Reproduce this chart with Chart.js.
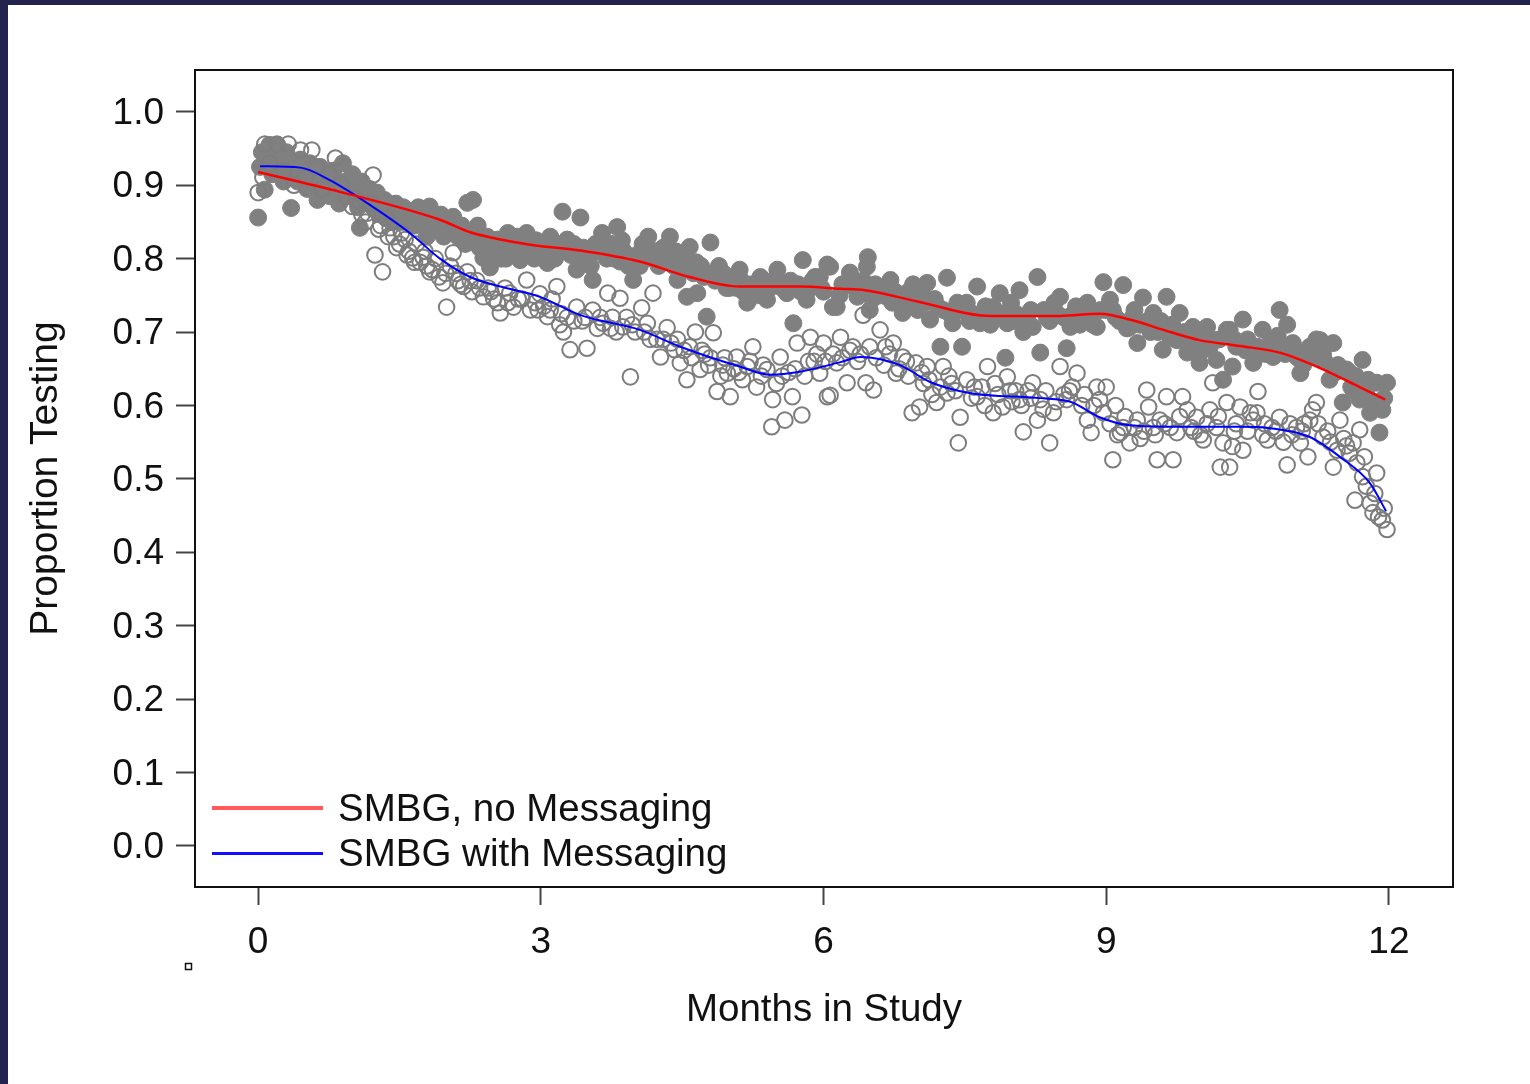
<!DOCTYPE html>
<html><head><meta charset="utf-8">
<script src="https://cdn.jsdelivr.net/npm/chart.js@4.4.1/dist/chart.umd.min.js"></script>
<style>
html,body{margin:0;padding:0;width:1530px;height:1084px;overflow:hidden;background:#24234f;}
#paper{position:absolute;left:8px;top:5px;right:0;bottom:0;background:#fff;}
#wrap{position:absolute;left:0;top:0;width:1530px;height:1084px;}
#legend{position:absolute;left:212px;top:785px;font-family:"Liberation Sans",Arial,sans-serif;font-size:38.5px;color:#111;}
.row{position:absolute;left:0;height:46px;white-space:nowrap;display:flex;align-items:center;}
.sw{width:111px;height:3px;margin-right:15px;}
</style></head><body>
<div id="paper"></div>
<div id="wrap"><canvas id="c" width="1530" height="1084"></canvas></div>
<div id="legend"></div>
<script>
// ---- data (months in study, proportion testing) ----
const xTicks = [0, 3, 6, 9, 12];
const yTicks = [0.0, 0.1, 0.2, 0.3, 0.4, 0.5, 0.6, 0.7, 0.8, 0.9, 1.0];

const seriesNames = ['SMBG, no Messaging', 'SMBG with Messaging'];

// smoothed curve, no messaging (red)
const noMsgCurveX = [0, 0.87, 1.93, 2.25, 2.89, 3.42, 4.05, 4.58, 5.11, 5.75, 6.18, 6.44, 7.02, 7.77, 8.51, 8.93, 9.25, 9.68, 9.99, 10.42, 10.84, 11.27, 11.69, 11.96];
const noMsgCurveY = [0.918, 0.891, 0.853, 0.836, 0.819, 0.811, 0.796, 0.775, 0.762, 0.762, 0.759, 0.757, 0.741, 0.722, 0.722, 0.725, 0.717, 0.700, 0.689, 0.681, 0.672, 0.651, 0.625, 0.608];

// smoothed curve, with messaging (blue)
const msgCurveX = [0.02, 0.45, 0.76, 1.19, 1.61, 1.93, 2.25, 2.57, 2.99, 3.42, 4.05, 4.48, 5.11, 5.43, 5.75, 6.18, 6.39, 6.81, 7.13, 7.55, 8.30, 8.62, 8.93, 9.25, 9.78, 10.42, 10.74, 11.16, 11.48, 11.80, 11.97];
const msgCurveY = [0.926, 0.924, 0.907, 0.873, 0.835, 0.800, 0.775, 0.762, 0.748, 0.723, 0.703, 0.680, 0.653, 0.642, 0.646, 0.659, 0.666, 0.655, 0.632, 0.617, 0.610, 0.605, 0.584, 0.573, 0.571, 0.571, 0.569, 0.557, 0.530, 0.494, 0.456];

// observed proportions, no messaging (filled circles)
const noMsgObs = [
[0.00,0.856],[0.02,0.925],[0.04,0.945],[0.07,0.894],[0.08,0.93],[0.12,0.955],[0.15,0.915],[0.18,0.94],[0.20,0.955],[0.24,0.925],[0.27,0.905],[0.30,0.945],[0.33,0.92],[0.35,0.869],[0.38,0.93],[0.42,0.905],[0.45,0.935],[0.48,0.915],
[0.52,0.895],[0.55,0.93],[0.58,0.92],[0.60,0.905],[0.63,0.88],[0.66,0.925],[0.68,0.89],[0.70,0.90],[0.73,0.915],[0.76,0.885],[0.78,0.905],[0.80,0.92],[0.83,0.90],[0.86,0.875],[0.88,0.895],[0.90,0.93],[0.93,0.905],[0.96,0.885],[0.98,0.90],[1.00,0.915],
[1.03,0.895],[1.06,0.87],[1.08,0.842],[1.10,0.905],[1.12,0.875],[1.14,0.885],[1.18,0.895],[1.20,0.88],[1.22,0.87],[1.26,0.89],[1.28,0.875],[1.30,0.86],[1.34,0.88],[1.36,0.855],[1.38,0.865],[1.42,0.85],[1.44,0.865],[1.46,0.875],[1.50,0.86],[1.52,0.85],[1.54,0.87],[1.58,0.85],[1.60,0.855],[1.62,0.865],[1.66,0.845],[1.68,0.86],[1.70,0.87],[1.74,0.855],[1.76,0.845],[1.79,0.83],[1.82,0.871],[1.84,0.84],[1.86,0.85],[1.90,0.84],[1.92,0.85],[1.94,0.86],[1.97,0.83],[2.00,0.839],
[2.04,0.85],[2.07,0.857],[2.10,0.845],[2.12,0.83],[2.16,0.845],[2.18,0.835],[2.20,0.82],[2.22,0.876],[2.26,0.825],[2.28,0.88],[2.30,0.835],[2.33,0.845],[2.35,0.815],[2.39,0.801],[2.41,0.815],[2.43,0.83],[2.46,0.788],[2.48,0.805],[2.50,0.82],[2.54,0.826],[2.56,0.815],[2.58,0.80],[2.60,0.81],[2.63,0.80],[2.65,0.835],[2.68,0.825],[2.71,0.816],[2.75,0.83],[2.78,0.798],[2.80,0.81],[2.82,0.82],[2.85,0.835],[2.88,0.825],[2.90,0.81],[2.93,0.80],[2.95,0.825],[2.99,0.822],
[3.00,0.81],[3.03,0.80],[3.05,0.82],[3.07,0.794],[3.10,0.83],[3.13,0.812],[3.15,0.80],[3.18,0.82],[3.20,0.81],[3.23,0.864],[3.28,0.826],[3.32,0.805],[3.35,0.82],[3.38,0.785],[3.42,0.856],[3.45,0.815],[3.47,0.80],[3.50,0.80],[3.53,0.79],[3.55,0.771],[3.58,0.82],[3.60,0.81],[3.65,0.835],[3.68,0.81],[3.70,0.80],[3.75,0.82],[3.78,0.80],[3.81,0.843],[3.84,0.796],[3.86,0.825],[3.88,0.81],[3.93,0.79],[3.95,0.80],[3.98,0.771],[4.02,0.805],
[4.05,0.79],[4.08,0.82],[4.12,0.80],[4.14,0.83],[4.19,0.808],[4.22,0.81],[4.25,0.79],[4.30,0.815],[4.33,0.80],[4.37,0.83],[4.41,0.79],[4.43,0.81],[4.45,0.771],[4.50,0.80],[4.53,0.785],[4.55,0.748],[4.58,0.816],[4.62,0.78],[4.65,0.795],[4.66,0.753],[4.70,0.79],[4.73,0.775],[4.76,0.721],[4.80,0.822],[4.83,0.78],[4.85,0.77],[4.89,0.79],[4.93,0.781],[4.95,0.775],[4.97,0.76],
[5.00,0.76],[5.03,0.775],[5.08,0.76],[5.11,0.785],[5.13,0.77],[5.15,0.755],[5.19,0.74],[5.22,0.75],[5.24,0.765],[5.29,0.75],[5.31,0.765],[5.33,0.775],[5.37,0.76],[5.40,0.744],[5.43,0.76],[5.46,0.77],[5.51,0.785],[5.53,0.77],[5.56,0.76],[5.61,0.753],[5.63,0.76],[5.65,0.77],[5.68,0.712],[5.73,0.765],[5.76,0.755],[5.78,0.798],[5.82,0.744],[5.86,0.76],[5.88,0.77],[5.91,0.775],[5.96,0.775],[5.98,0.76],[6.00,0.755],
[6.04,0.792],[6.07,0.789],[6.10,0.734],[6.14,0.734],[6.17,0.75],[6.20,0.765],[6.25,0.765],[6.28,0.781],[6.33,0.76],[6.36,0.748],[6.39,0.76],[6.42,0.77],[6.46,0.789],[6.47,0.802],[6.49,0.73],[6.52,0.745],[6.55,0.765],[6.60,0.75],[6.63,0.76],[6.67,0.748],[6.71,0.771],[6.73,0.74],[6.76,0.755],[6.80,0.74],[6.84,0.726],[6.87,0.745],[6.90,0.755],[6.95,0.765],[6.99,0.74],
[7.00,0.73],[7.05,0.75],[7.08,0.74],[7.10,0.767],[7.13,0.717],[7.18,0.745],[7.21,0.735],[7.24,0.68],[7.27,0.73],[7.31,0.774],[7.34,0.725],[7.37,0.712],[7.42,0.74],[7.45,0.73],[7.47,0.68],[7.52,0.74],[7.55,0.715],[7.58,0.725],[7.63,0.762],[7.66,0.712],[7.69,0.725],[7.72,0.735],[7.77,0.71],[7.80,0.734],[7.84,0.72],[7.87,0.753],[7.90,0.725],[7.93,0.665],[7.95,0.712],[7.99,0.74],
[8.01,0.715],[8.04,0.725],[8.08,0.757],[8.12,0.70],[8.16,0.721],[8.20,0.73],[8.22,0.707],[8.27,0.775],[8.30,0.672],[8.34,0.73],[8.37,0.72],[8.40,0.715],[8.45,0.74],[8.48,0.725],[8.51,0.748],[8.55,0.72],[8.58,0.678],[8.62,0.707],[8.65,0.725],[8.68,0.735],[8.72,0.71],[8.75,0.72],[8.80,0.74],[8.83,0.725],[8.86,0.71],[8.90,0.707],[8.94,0.73],[8.97,0.768],[9.00,0.73],
[9.04,0.744],[9.07,0.73],[9.10,0.72],[9.14,0.715],[9.18,0.764],[9.22,0.705],[9.25,0.707],[9.28,0.72],[9.30,0.73],[9.33,0.685],[9.36,0.71],[9.39,0.747],[9.44,0.715],[9.47,0.70],[9.50,0.726],[9.55,0.70],[9.58,0.715],[9.60,0.676],[9.64,0.748],[9.67,0.695],[9.70,0.71],[9.75,0.689],[9.78,0.726],[9.80,0.69],[9.83,0.70],[9.86,0.672],[9.90,0.695],[9.92,0.707],[9.96,0.69],[9.99,0.658],
[10.02,0.675],[10.04,0.685],[10.07,0.707],[10.10,0.68],[10.12,0.69],[10.17,0.662],[10.20,0.69],[10.24,0.635],[10.28,0.703],[10.31,0.703],[10.34,0.653],[10.36,0.69],[10.38,0.68],[10.45,0.717],[10.48,0.675],[10.50,0.69],[10.56,0.658],[10.60,0.68],[10.63,0.67],[10.66,0.703],[10.70,0.67],[10.74,0.685],[10.77,0.666],[10.82,0.695],[10.84,0.73],[10.88,0.68],[10.90,0.67],[10.92,0.71],[10.98,0.685],
[11.00,0.675],[11.03,0.665],[11.06,0.644],[11.09,0.655],[11.12,0.67],[11.16,0.68],[11.19,0.666],[11.23,0.69],[11.27,0.689],[11.30,0.67],[11.32,0.66],[11.37,0.635],[11.41,0.685],[11.43,0.645],[11.46,0.655],[11.51,0.604],[11.55,0.649],[11.58,0.645],[11.60,0.625],[11.63,0.62],[11.65,0.64],[11.69,0.608],[11.72,0.662],[11.76,0.62],[11.78,0.635],[11.80,0.59],[11.84,0.605],[11.87,0.631],[11.90,0.563],[11.93,0.594],[11.95,0.61],[11.98,0.631]
];

// observed proportions, with messaging (open circles)
const msgObs = [
[0.00,0.89],[0.05,0.911],[0.07,0.956],[0.12,0.93],[0.20,0.956],[0.27,0.92],[0.32,0.956],[0.38,0.90],[0.45,0.948],[0.50,0.91],[0.57,0.948],[0.62,0.925],[0.68,0.895],[0.75,0.915],[0.82,0.937],[0.88,0.90],[0.94,0.885],[1.00,0.871],[1.05,0.88],
[1.10,0.86],[1.14,0.85],[1.16,0.862],[1.19,0.875],[1.22,0.914],[1.24,0.805],[1.28,0.84],[1.30,0.845],[1.32,0.782],[1.36,0.855],[1.38,0.83],[1.40,0.842],[1.44,0.83],[1.47,0.815],[1.50,0.82],[1.52,0.835],[1.56,0.826],[1.58,0.805],[1.60,0.81],[1.64,0.801],[1.66,0.795],[1.68,0.82],[1.72,0.795],[1.75,0.802],[1.77,0.81],[1.79,0.79],[1.82,0.782],[1.85,0.785],[1.88,0.80],[1.92,0.775],[1.96,0.767],[1.99,0.78],[2.00,0.734],
[2.04,0.79],[2.07,0.808],[2.10,0.78],[2.12,0.77],[2.15,0.765],[2.18,0.762],[2.22,0.782],[2.25,0.77],[2.27,0.755],[2.32,0.77],[2.35,0.76],[2.39,0.748],[2.44,0.76],[2.47,0.755],[2.50,0.745],[2.54,0.74],[2.57,0.726],[2.62,0.76],[2.65,0.74],[2.67,0.753],[2.71,0.734],[2.76,0.745],[2.80,0.745],[2.85,0.771],[2.89,0.730],[2.94,0.74],[2.97,0.73],[2.99,0.752],
[3.03,0.735],[3.07,0.721],[3.10,0.73],[3.12,0.745],[3.17,0.762],[3.20,0.71],[3.22,0.725],[3.24,0.70],[3.28,0.72],[3.31,0.676],[3.35,0.715],[3.38,0.734],[3.44,0.715],[3.47,0.72],[3.49,0.678],[3.55,0.73],[3.60,0.705],[3.63,0.72],[3.66,0.712],[3.71,0.753],[3.74,0.705],[3.76,0.72],[3.80,0.70],[3.84,0.746],[3.87,0.707],[3.91,0.72],[3.95,0.639],[3.97,0.71],[4.00,0.70],
[4.07,0.733],[4.10,0.70],[4.13,0.712],[4.16,0.69],[4.19,0.753],[4.23,0.69],[4.27,0.666],[4.30,0.69],[4.34,0.706],[4.38,0.685],[4.42,0.676],[4.45,0.69],[4.48,0.658],[4.52,0.675],[4.55,0.635],[4.58,0.68],[4.60,0.665],[4.64,0.70],[4.69,0.649],[4.71,0.675],[4.74,0.67],[4.78,0.655],[4.80,0.665],[4.83,0.699],[4.87,0.619],[4.91,0.64],[4.93,0.655],[4.95,0.665],[4.98,0.644],
[5.01,0.612],[5.05,0.65],[5.08,0.666],[5.10,0.645],[5.14,0.635],[5.19,0.653],[5.22,0.66],[5.25,0.68],[5.29,0.625],[5.34,0.64],[5.36,0.655],[5.40,0.649],[5.45,0.571],[5.46,0.608],[5.50,0.63],[5.54,0.666],[5.56,0.64],[5.59,0.58],[5.63,0.645],[5.67,0.612],[5.70,0.65],[5.72,0.685],[5.77,0.587],[5.80,0.64],[5.84,0.66],[5.86,0.693],[5.90,0.66],[5.93,0.67],[5.96,0.644],[6.00,0.685],
[6.02,0.66],[6.04,0.612],[6.07,0.614],[6.10,0.67],[6.14,0.658],[6.18,0.693],[6.20,0.665],[6.25,0.631],[6.28,0.675],[6.31,0.68],[6.36,0.66],[6.39,0.67],[6.42,0.723],[6.45,0.631],[6.49,0.68],[6.53,0.621],[6.56,0.665],[6.60,0.703],[6.64,0.655],[6.66,0.68],[6.70,0.67],[6.74,0.685],[6.77,0.644],[6.80,0.65],[6.84,0.666],[6.88,0.66],[6.90,0.64],[6.94,0.59],[6.98,0.658],
[7.02,0.598],[7.04,0.645],[7.06,0.63],[7.10,0.653],[7.12,0.635],[7.15,0.615],[7.20,0.604],[7.24,0.625],[7.27,0.653],[7.31,0.617],[7.33,0.64],[7.36,0.63],[7.40,0.62],[7.43,0.549],[7.45,0.584],[7.52,0.635],[7.57,0.61],[7.60,0.625],[7.63,0.612],[7.68,0.625],[7.71,0.60],[7.74,0.653],[7.80,0.59],[7.82,0.63],[7.85,0.615],[7.90,0.598],[7.95,0.639],[7.98,0.62],[8.00,0.605],
[8.04,0.62],[8.08,0.608],[8.10,0.60],[8.12,0.564],[8.17,0.62],[8.20,0.61],[8.22,0.631],[8.27,0.58],[8.30,0.608],[8.33,0.595],[8.36,0.62],[8.40,0.549],[8.44,0.59],[8.47,0.605],[8.51,0.653],[8.55,0.615],[8.58,0.608],[8.61,0.62],[8.64,0.625],[8.69,0.644],[8.74,0.60],[8.77,0.615],[8.80,0.58],[8.84,0.563],[8.87,0.60],[8.90,0.625],[8.93,0.608],[8.97,0.59],
[9.00,0.625],[9.04,0.575],[9.07,0.526],[9.10,0.60],[9.12,0.56],[9.15,0.563],[9.18,0.57],[9.20,0.585],[9.25,0.549],[9.30,0.57],[9.33,0.58],[9.36,0.555],[9.40,0.565],[9.43,0.621],[9.45,0.598],[9.50,0.57],[9.52,0.56],[9.54,0.526],[9.57,0.58],[9.62,0.575],[9.64,0.612],[9.68,0.57],[9.71,0.526],[9.75,0.563],[9.78,0.585],[9.81,0.612],[9.86,0.594],[9.90,0.57],[9.93,0.565],[9.96,0.584],[10.00,0.56],
[10.03,0.553],[10.07,0.575],[10.10,0.594],[10.13,0.631],[10.17,0.57],[10.19,0.585],[10.21,0.516],[10.24,0.549],[10.28,0.604],[10.31,0.516],[10.34,0.544],[10.36,0.565],[10.38,0.575],[10.42,0.598],[10.45,0.539],[10.50,0.565],[10.53,0.59],[10.56,0.58],[10.60,0.59],[10.61,0.619],[10.66,0.56],[10.68,0.575],[10.71,0.553],[10.76,0.57],[10.80,0.565],[10.84,0.584],[10.88,0.55],[10.92,0.519],[10.95,0.575],[10.97,0.56],
[11.02,0.57],[11.06,0.549],[11.08,0.565],[11.10,0.575],[11.14,0.53],[11.16,0.58],[11.19,0.594],[11.23,0.604],[11.25,0.575],[11.30,0.557],[11.35,0.565],[11.38,0.55],[11.41,0.516],[11.45,0.539],[11.48,0.58],[11.52,0.555],[11.55,0.545],[11.58,0.535],[11.62,0.549],[11.64,0.471],[11.66,0.522],[11.69,0.567],[11.72,0.503],[11.74,0.53],[11.76,0.49],[11.80,0.467],[11.83,0.454],[11.85,0.48],[11.87,0.508],[11.89,0.448],[11.93,0.444],[11.95,0.46],[11.98,0.431]
];

// ---- build ----
const FONT = '"Liberation Sans", Arial, Helvetica, sans-serif';
const zip = (xs, ys) => xs.map((x, i) => ({x: x, y: ys[i]}));
const pairs = arr => arr.map(p => ({x: p[0], y: p[1]}));
const lineColors = ['#ff0000', '#0000ff'];
const legendColors = ['#ff5a5a', '#1010ff'];

const framePlugin = {
  id: 'frame',
  afterDraw(chart) {
    const {ctx, chartArea: a} = chart;
    ctx.save();
    ctx.strokeStyle = '#111';
    ctx.lineWidth = 2;
    ctx.strokeRect(a.left, a.top, a.right - a.left, a.bottom - a.top);
    ctx.lineWidth = 1.5;
    ctx.strokeRect(185.5, 963.5, 6, 6);
    ctx.restore();
  }
};

const chart = new Chart(document.getElementById('c'), {
  type: 'scatter',
  data: {
    datasets: [
      {type: 'line', label: seriesNames[0], data: zip(noMsgCurveX, noMsgCurveY), borderColor: lineColors[0], borderWidth: 2.5, pointRadius: 0, fill: false, cubicInterpolationMode: 'monotone', order: 0},
      {type: 'line', label: seriesNames[1], data: zip(msgCurveX, msgCurveY), borderColor: lineColors[1], borderWidth: 2, pointRadius: 0, fill: false, cubicInterpolationMode: 'monotone', order: 1},
      {label: seriesNames[1] + ' (observed)', data: pairs(msgObs), pointRadius: 7.8, pointBorderWidth: 2, borderColor: '#7d7d7d', backgroundColor: 'rgba(255,255,255,0)', order: 2},
      {label: seriesNames[0] + ' (observed)', data: pairs(noMsgObs), pointRadius: 8.5, pointBorderWidth: 1, borderColor: '#808080', backgroundColor: '#808080', order: 3}
    ]
  },
  options: {
    responsive: false,
    animation: false,
    layout: {padding: {left: 0, top: 70, right: 77, bottom: 0}},
    plugins: {legend: {display: false}, tooltip: {enabled: false}},
    scales: {
      x: {
        type: 'linear', min: -0.67, max: 12.68,
        afterBuildTicks: s => { s.ticks = xTicks.map(v => ({value: v})); },
        afterFit: s => { s.height = 197; },
        grid: {drawOnChartArea: false, drawTicks: true, tickLength: 18, tickColor: '#444', tickWidth: 2},
        border: {display: false},
        ticks: {padding: 16, color: '#111', font: {family: FONT, size: 37}, maxRotation: 0, autoSkip: false, callback: v => String(v)},
        title: {display: true, text: 'Months in Study', color: '#111', font: {family: FONT, size: 38.5}, padding: {top: 0, bottom: 51}}
      },
      y: {
        type: 'linear', min: -0.056, max: 1.057,
        afterBuildTicks: s => { s.ticks = yTicks.map(v => ({value: v})); },
        afterFit: s => { s.width = 195; },
        grid: {drawOnChartArea: false, drawTicks: true, tickLength: 19, tickColor: '#444', tickWidth: 2},
        border: {display: false},
        ticks: {padding: 12, labelOffset: 2, color: '#111', font: {family: FONT, size: 37}, autoSkip: false, callback: v => Number(v).toFixed(1)},
        title: {display: true, text: 'Proportion Testing', color: '#111', font: {family: FONT, size: 39}, padding: {top: 23, bottom: 0}}
      }
    }
  },
  plugins: [framePlugin]
});

// HTML legend built from series names / colours
const lg = document.getElementById('legend');
seriesNames.forEach((name, i) => {
  const row = document.createElement('div');
  row.className = 'row';
  row.style.top = (i * 45) + 'px';
  const sw = document.createElement('span');
  sw.className = 'sw';
  sw.style.background = legendColors[i];
  sw.style.height = (i === 0 ? 4 : 3) + 'px';
  const tx = document.createElement('span');
  tx.textContent = name;
  row.appendChild(sw); row.appendChild(tx);
  lg.appendChild(row);
});
</script>
</body></html>
